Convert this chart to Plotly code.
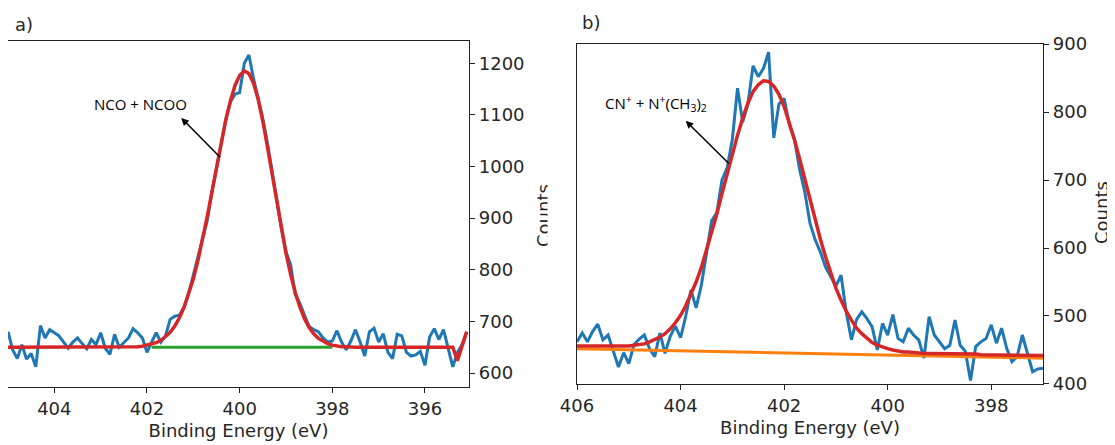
import numpy as np
import plotly.graph_objects as go

# ---- panel a) : binding energy grid (0.1 eV steps) and counts
be_a = np.round(np.arange(405.0, 395.05, -0.1), 1)
counts_a = [680, 645, 628, 655, 627, 638, 612, 692, 668, 684,
            678, 672, 660, 648, 660, 668, 657, 647, 665, 655,
            678, 648, 636, 675, 650, 660, 668, 686, 678, 668,
            640, 660, 678, 660, 672, 704, 710, 712, 728, 755,
            790, 830, 862, 895, 950, 998, 1045, 1090, 1125, 1140,
            1143, 1200, 1216, 1170, 1132, 1092, 1045, 992, 932, 880,
            835, 810, 752, 735, 712, 690, 684, 680, 668, 660,
            662, 682, 660, 645, 662, 684, 660, 633, 680, 687,
            660, 676, 640, 628, 675, 672, 640, 633, 635, 642,
            615, 670, 686, 665, 684, 645, 612, 640, 655, 680]
fit_a = [650] * 27 + [
    651, 651, 652, 654, 656, 659, 663, 670, 679, 691,
    707, 727, 752, 782, 818, 859, 903, 950, 999, 1046,
    1090, 1127, 1157, 1176, 1185, 1180, 1161, 1130, 1088, 1038,
    985, 931, 880, 832, 791, 756, 728, 705, 688, 676,
    667, 661, 657, 654, 652, 651, 651] + [650] * 23 + [624, 652, 680]
bg_a_be = [401.9, 398.0]
bg_a = [650, 650]

# ---- panel b)
be_b = np.round(np.arange(406.0, 396.95, -0.1), 1)
counts_b = [462, 475, 462, 477, 488, 465, 472, 448, 425, 446,
            430, 458, 466, 472, 452, 440, 475, 445, 470, 485,
            468, 500, 538, 512, 545, 592, 640, 652, 700, 718,
            760, 835, 785, 812, 868, 852, 864, 888, 762, 812,
            820, 782, 760, 715, 682, 636, 612, 594, 572, 558,
            544, 560, 505, 465, 495, 506, 496, 484, 450, 489,
            472, 502, 467, 462, 482, 472, 465, 438, 499, 472,
            462, 452, 457, 494, 457, 448, 405, 455, 462, 467,
            487, 460, 482, 452, 433, 440, 472, 443, 418, 422,
            423]
fit_b = [456, 456, 456, 456, 456, 455, 455, 455, 455, 456,
         456, 457, 458, 459, 462, 465, 469, 474, 481, 490,
         501, 515, 531, 550, 571, 596, 622, 650, 680, 709,
         739, 766, 791, 813, 830, 840, 846, 845, 838, 826,
         808, 785, 759, 731, 701, 671, 642, 613, 587, 563,
         541, 523, 507, 494, 482, 474, 467, 461, 457, 454,
         452, 450, 448, 447, 447, 446, 446, 445, 445, 445,
         445, 445, 444, 444, 444, 444, 444, 444, 443, 443,
         443, 443, 443, 443, 443, 442, 442, 442, 442, 442,
         442]
bg_b_be = [406.0, 397.0]
bg_b = [452, 438]

assert len(counts_a) == len(fit_a) == len(be_a)
assert len(counts_b) == len(fit_b) == len(be_b)

BLUE, ORANGE, GREEN, RED = '#1f77b4', '#ff7f0e', '#2ca02c', '#d62728'
INK = '#262626'

fig = go.Figure()
fig.add_trace(go.Scatter(x=be_a, y=counts_a, mode='lines', line=dict(color=BLUE, width=3),
                         xaxis='x', yaxis='y'))
fig.add_trace(go.Scatter(x=bg_a_be, y=bg_a, mode='lines', line=dict(color=GREEN, width=3),
                         xaxis='x', yaxis='y'))
fig.add_trace(go.Scatter(x=be_a, y=fit_a, mode='lines', line=dict(color=RED, width=3.5),
                         xaxis='x', yaxis='y'))
fig.add_trace(go.Scatter(x=be_b, y=counts_b, mode='lines', line=dict(color=BLUE, width=3),
                         xaxis='x2', yaxis='y2'))
fig.add_trace(go.Scatter(x=bg_b_be, y=bg_b, mode='lines', line=dict(color=ORANGE, width=3),
                         xaxis='x2', yaxis='y2'))
fig.add_trace(go.Scatter(x=be_b, y=fit_b, mode='lines', line=dict(color=RED, width=3.5),
                         xaxis='x2', yaxis='y2'))

tickfont = dict(family='DejaVu Sans', size=18, color=INK)
ax_style = dict(showline=True, mirror=True, linecolor='#222', linewidth=1.3,
                ticks='outside', ticklen=5, tickwidth=1.2, tickcolor='#222',
                showgrid=False, zeroline=False, tickfont=tickfont, automargin=False)
xtitle = dict(text='Binding Energy (eV)', font=tickfont, standoff=6)

# the page body has an 8px margin, so the figure is drawn 8px smaller
fig.update_layout(
    width=1107, height=437, autosize=False,
    margin=dict(l=0, r=72, t=33, b=58),
    paper_bgcolor='white', plot_bgcolor='white',
    showlegend=False,
    xaxis=dict(domain=[0, 0.4454], range=[405.0, 395.05], dtick=2, tick0=0,
               anchor='y', title=xtitle, **ax_style),
    yaxis=dict(domain=[0, 1], range=[573, 1243], dtick=100, side='right',
               anchor='x', **ax_style),
    xaxis2=dict(domain=[0.5498, 1], range=[406.0, 397.0], dtick=2, tick0=0,
                anchor='y2', title=xtitle, **ax_style),
    yaxis2=dict(domain=[0.0087, 0.9913], range=[400, 900], dtick=100, side='right',
                anchor='x2', **ax_style),
)

lab = dict(family='Open Sans', size=15, color='black')
arrow = dict(text='', showarrow=True, arrowhead=2, arrowsize=1, arrowwidth=1.5,
             arrowcolor='black')
fig.add_annotation(x=402.15, y=1121, xref='x', yref='y', text='NCO + NCOO',
                   showarrow=False, font=lab)
fig.add_annotation(x=401.26, y=1094, ax=400.39, ay=1015, xref='x', yref='y',
                   axref='x', ayref='y', **arrow)
fig.add_annotation(x=404.48, y=812, xref='x2', yref='y2',
                   text='CN<sup>+</sup> + N<sup>+</sup>(CH<sub>3</sub>)<sub>2</sub>',
                   showarrow=False, font=lab)
fig.add_annotation(x=403.90, y=787, ax=403.04, ay=722, xref='x2', yref='y2',
                   axref='x2', ayref='y2', **arrow)

# panel letters
fig.add_annotation(x=(13 - 8) / 1035, y=(387 - 24) / 346, xref='paper', yref='paper',
                   text='a)', showarrow=False, xanchor='left', yanchor='middle', font=tickfont)
fig.add_annotation(x=(580 - 8) / 1035, y=(387 - 22) / 346, xref='paper', yref='paper',
                   text='b)', showarrow=False, xanchor='left', yanchor='middle', font=tickfont)

# y titles (left one is cut off by panel b in the original figure)
fig.add_annotation(x=(543 - 8) / 1035, y=(387 - 216) / 346, xref='paper', yref='paper',
                   text='Counts', textangle=-90, showarrow=False,
                   xanchor='center', yanchor='middle', font=tickfont)
fig.add_annotation(x=(557 - 8) / 1035, y=(387 - 216) / 346, xref='paper', yref='paper',
                   text=' ', showarrow=False, bgcolor='white', width=18, height=100,
                   borderpad=0, xanchor='center', yanchor='middle')
fig.add_annotation(x=(1101 - 8) / 1035, y=(387 - 213) / 346, xref='paper', yref='paper',
                   text='Counts', textangle=-90, showarrow=False,
                   xanchor='center', yanchor='middle', font=tickfont)

fig.write_html("out.html")
